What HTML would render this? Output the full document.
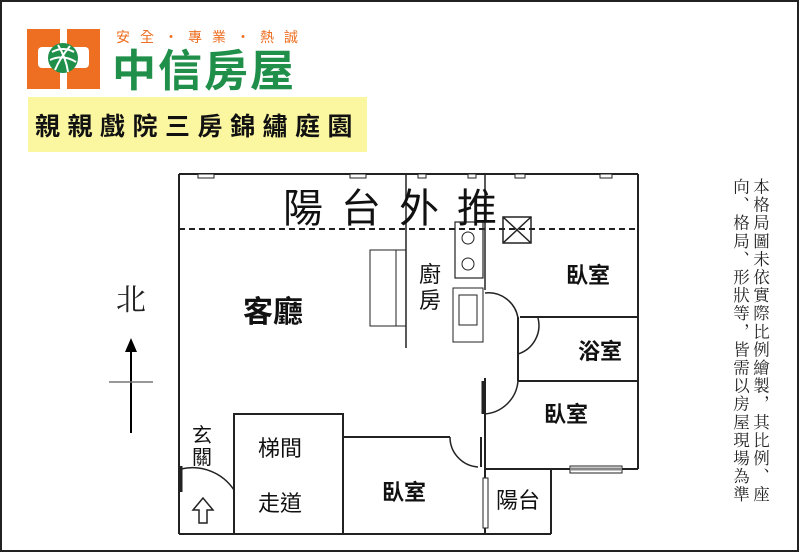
<!DOCTYPE html>
<html><head><meta charset="utf-8"><style>
body{margin:0;background:#fff}
svg{display:block}
</style></head><body>
<svg width="800" height="553" viewBox="0 0 800 553" xmlns="http://www.w3.org/2000/svg" font-family="'Liberation Sans','Noto Sans CJK TC',sans-serif">
<rect x="1" y="1" width="797" height="550" fill="#fff" stroke="#222" stroke-width="2"/>
<!-- logo -->
<rect x="27" y="29" width="73" height="60" fill="#ee6f22"/>
<rect x="60" y="29" width="7" height="18" fill="#fff"/>
<rect x="60" y="70" width="7" height="19" fill="#fff"/>
<rect x="38" y="47" width="51" height="21" rx="4" fill="#fff"/>
<circle cx="63" cy="58" r="15" fill="#1f8f4a"/>
<path d="M52 52 Q63 46 74 52 M50 60 Q63 54 76 62 M55 70 Q60 58 70 46 M58 45 Q66 58 68 72" stroke="#fff" stroke-width="2" fill="none"/>
<text x="116" y="42" font-size="14" fill="#ee6f22" letter-spacing="10">安全・專業・熱誠</text>
<text x="112" y="86" font-size="44" fill="#1f8f4a" font-weight="bold" letter-spacing="2">中信房屋</text>
<rect x="28" y="97" width="339" height="55" fill="#fbf7a0"/>
<text x="35" y="135" font-size="25" font-weight="bold" fill="#111" letter-spacing="7.5">親親戲院三房錦繡庭園</text>
<!-- north -->
<text x="131" y="310" font-size="30" text-anchor="middle" font-family="'Liberation Serif','Noto Serif CJK SC',serif" fill="#222">北</text>
<line x1="131" y1="348" x2="131" y2="433" stroke="#000" stroke-width="2"/>
<polygon points="131,338 125,352 137,352" fill="#000"/>
<line x1="109" y1="382" x2="153" y2="382" stroke="#777" stroke-width="1.5"/>
<!-- plan -->
<g stroke="#222" stroke-width="2" fill="none">
<line x1="179" y1="174" x2="638" y2="174"/>
<line x1="179" y1="174" x2="179" y2="534"/>
<line x1="638" y1="174" x2="638" y2="469"/>
<line x1="179" y1="534" x2="551" y2="534"/>
<line x1="406" y1="174" x2="406" y2="348" stroke-width="1.5"/>
<line x1="485" y1="174" x2="485" y2="290" stroke-width="1.5"/>
<line x1="485" y1="378" x2="485" y2="534"/>
<line x1="520" y1="317" x2="638" y2="317"/>
<line x1="518" y1="317" x2="518" y2="381"/>
<line x1="518" y1="381" x2="638" y2="381"/>
<line x1="485" y1="469" x2="638" y2="469"/>
<line x1="551" y1="469" x2="551" y2="534"/>
<polyline points="234,534 234,414 343,414 343,534"/>
<line x1="343" y1="437" x2="450" y2="437"/>
<path d="M485 293 A30 30 0 0 1 518 318" stroke-width="1.5"/>
<path d="M538 318 A30 30 0 0 1 518 354" stroke-width="1.5"/>
<path d="M518 381 A36 36 0 0 1 484 414" stroke-width="1.5"/>
<path d="M450 437 A30 30 0 0 0 478 467" stroke-width="1.5"/>
<line x1="481" y1="437" x2="481" y2="467" stroke-width="2"/>
<line x1="483" y1="381" x2="483" y2="414" stroke-width="3"/>
<path d="M181 469 A50 50 0 0 1 234 490" stroke-width="1.5"/>
<line x1="181" y1="466" x2="181" y2="492" stroke-width="3"/>
<line x1="179" y1="229" x2="638" y2="229" stroke-dasharray="6,4" stroke-width="2"/>
<!-- windows -->
<rect x="198" y="174" width="16" height="4" fill="#fff" stroke-width="1"/>
<rect x="350" y="174" width="16" height="4" fill="#fff" stroke-width="1"/>
<rect x="418" y="174" width="8" height="4" fill="#fff" stroke-width="1"/>
<rect x="468" y="174" width="8" height="4" fill="#fff" stroke-width="1"/>
<rect x="515" y="174" width="10" height="4" fill="#fff" stroke-width="1"/>
<rect x="600" y="174" width="12" height="4" fill="#fff" stroke-width="1"/>
<rect x="570" y="466" width="52" height="7" fill="#fff" stroke-width="1"/>
<line x1="570" y1="469" x2="622" y2="469" stroke="#888" stroke-width="3"/>
<rect x="483" y="478" width="5" height="50" fill="#fff" stroke-width="1"/>
<!-- furniture -->
<rect x="370" y="250" width="36" height="76" stroke-width="1"/>
<rect x="396" y="250" width="10" height="76" stroke-width="1"/>
<rect x="455" y="222" width="28" height="56" stroke-width="1.2"/>
<circle cx="468" cy="238" r="6" stroke-width="1"/>
<circle cx="468" cy="264" r="6" stroke-width="1"/>
<rect x="453" y="288" width="30" height="54" stroke-width="1"/>
<rect x="459" y="295" width="18" height="30" stroke-width="1"/>
<rect x="503" y="217" width="28" height="26" stroke-width="1.5"/>
<path d="M503 217 L531 243 M531 217 L503 243" stroke-width="1.5"/>
<polygon points="203,498 193,510 199,510 199,523 207,523 207,510 213,510" stroke-width="1.5"/>
</g>
<text x="283" y="222" font-size="40" fill="#111" letter-spacing="18">陽台外推</text>
<g font-size="22" fill="#111" text-anchor="middle">
<text x="273" y="322" font-size="30" font-weight="bold">客廳</text>
<text x="430" y="282">廚</text>
<text x="430" y="308">房</text>
<text x="588" y="283" font-weight="bold">臥室</text>
<text x="600" y="359" font-weight="bold">浴室</text>
<text x="566" y="422" font-weight="bold">臥室</text>
<text x="404" y="500" font-weight="bold">臥室</text>
<text x="280" y="456">梯間</text>
<text x="280" y="511">走道</text>
<text x="518" y="508">陽台</text>
<text x="202" y="442" font-size="20">玄</text>
<text x="202" y="464" font-size="20">關</text>
</g>
<g font-size="16.5" fill="#222" font-family="'Liberation Serif','Noto Serif CJK SC',serif" letter-spacing="1.6">
<text x="760" y="178" style="writing-mode:vertical-rl;glyph-orientation-vertical:0;text-anchor:start">本格局圖未依實際比例繪製，其比例、座</text>
<text x="740" y="178" style="writing-mode:vertical-rl;glyph-orientation-vertical:0;text-anchor:start">向、格局、形狀等，皆需以房屋現場為準</text>
</g>
</svg>
</body></html>
